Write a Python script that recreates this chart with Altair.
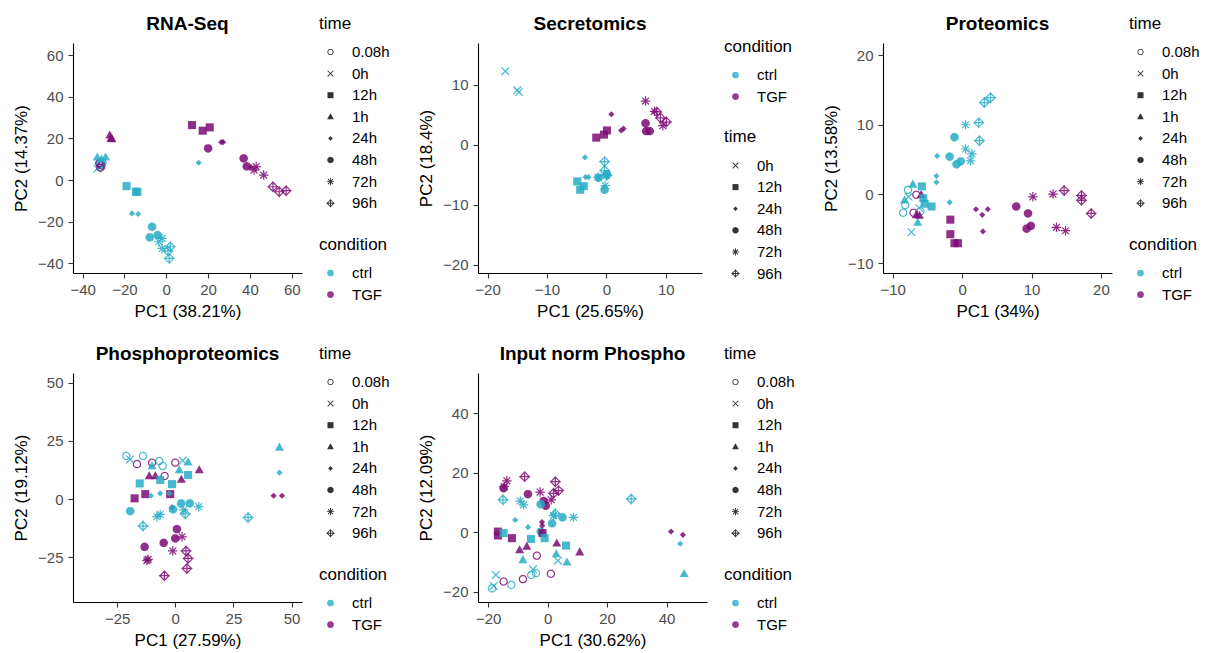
import math
import altair as alt
import pandas as pd

# ---------------- data ----------------
CONDITIONS = ["ctrl", "TGF"]
COND_COLORS = ["#27ADC4", "#7C0A73"]

RNA_TIMES = ["0.08h", "0h", "12h", "1h", "24h", "48h", "72h", "96h"]
RNA = [
    ("ctrl", "0h", -33, 5.5), ("ctrl", "0h", -31, 7), ("ctrl", "0h", -32, 6.5),
    ("ctrl", "0.08h", -32, 8), ("ctrl", "0.08h", -31.5, 7.5), ("ctrl", "0.08h", -30.5, 8.5),
    ("TGF", "0.08h", -32, 8), ("TGF", "0.08h", -31.5, 6), ("TGF", "0.08h", -31, 7),
    ("ctrl", "1h", -33, 11), ("ctrl", "1h", -29, 11), ("ctrl", "1h", -31, 10),
    ("TGF", "1h", -27, 21.5), ("TGF", "1h", -26.5, 20), ("TGF", "1h", -26, 19.8),
    ("ctrl", "12h", -19, -2.9), ("ctrl", "12h", -14.5, -5.6), ("ctrl", "12h", -13.8, -5.6),
    ("TGF", "12h", 12.3, 26.4), ("TGF", "12h", 17.4, 23.7), ("TGF", "12h", 20.8, 25.3),
    ("ctrl", "24h", -16.4, -16), ("ctrl", "24h", -13.5, -16.3), ("ctrl", "24h", 15.5, 8.3),
    ("TGF", "24h", 26.3, 18.2), ("TGF", "24h", 27.2, 18.2), ("TGF", "24h", 40.5, 6.2),
    ("ctrl", "48h", -6.8, -22.4), ("ctrl", "48h", -7.9, -27.5), ("ctrl", "48h", -4.1, -26.4),
    ("TGF", "48h", 20, 15.2), ("TGF", "48h", 37, 10.4), ("TGF", "48h", 38.5, 6.6),
    ("ctrl", "72h", -2, -28), ("ctrl", "72h", -3.6, -29.6), ("ctrl", "72h", -2, -32.8),
    ("TGF", "72h", 43, 6.5), ("TGF", "72h", 42, 4.8), ("TGF", "72h", 46.6, 2.4),
    ("ctrl", "96h", 1.9, -32), ("ctrl", "96h", 0.8, -34), ("ctrl", "96h", 1.4, -37.6),
    ("TGF", "96h", 51, -3.2), ("TGF", "96h", 54, -5.6), ("TGF", "96h", 57.3, -5.1),
]

SEC_TIMES = ["0h", "12h", "24h", "48h", "72h", "96h"]
SEC = [
    ("ctrl", "0h", -17, 12.3), ("ctrl", "0h", -14.7, 8.8), ("ctrl", "0h", -15, 9.1),
    ("ctrl", "12h", -4.9, -6.1), ("ctrl", "12h", -3.8, -6.9), ("ctrl", "12h", -4.4, -7.5),
    ("TGF", "12h", -1.7, 1.2), ("TGF", "12h", -0.4, 1.7), ("TGF", "12h", 0.1, 2.4),
    ("ctrl", "24h", -3.6, -2.1), ("ctrl", "24h", -3.5, -5.4), ("ctrl", "24h", -3.0, -5.4),
    ("TGF", "24h", 0.85, 5.1), ("TGF", "24h", 2.5, 2.4), ("TGF", "24h", 2.9, 2.7),
    ("ctrl", "48h", -1.3, -5.5), ("ctrl", "48h", -0.3, -7.5), ("ctrl", "48h", 0.1, -4.9),
    ("TGF", "48h", 6.6, 3.6), ("TGF", "48h", 6.7, 2.3), ("TGF", "48h", 7.3, 2.3),
    ("ctrl", "72h", -1.4, -5.4), ("ctrl", "72h", -0.2, -6.8), ("ctrl", "72h", 0.0, -5.1),
    ("TGF", "72h", 6.6, 7.3), ("TGF", "72h", 8.1, 5.6), ("TGF", "72h", 9.5, 3.2),
    ("ctrl", "96h", -0.3, -2.8), ("ctrl", "96h", -0.3, -4.3), ("ctrl", "96h", 0.1, -5.1),
    ("TGF", "96h", 8.5, 5.5), ("TGF", "96h", 9.1, 4.5), ("TGF", "96h", 10.1, 3.8),
]

PROT_TIMES = ["0.08h", "0h", "12h", "1h", "24h", "48h", "72h", "96h"]
PROT = [
    ("ctrl", "0.08h", -7.8, 0.6), ("ctrl", "0.08h", -8.2, -1.6), ("ctrl", "0.08h", -8.5, -2.7), ("ctrl", "0.08h", -6.0, -2.5),
    ("TGF", "0.08h", -6.6, -0.1), ("TGF", "0.08h", -7.0, -2.7),
    ("ctrl", "0h", -7.3, -5.5), ("ctrl", "0h", -7.7, -0.4), ("ctrl", "0h", -6.2, -2.0),
    ("ctrl", "1h", -7.1, 1.4), ("ctrl", "1h", -8.3, -0.9), ("ctrl", "1h", -6.4, -4.1),
    ("TGF", "1h", -5.9, -0.1), ("TGF", "1h", -6.6, -3.0), ("TGF", "1h", -6.15, -3.1),
    ("ctrl", "12h", -5.8, 1.1), ("ctrl", "12h", -5.4, -1.4), ("ctrl", "12h", -4.4, -1.8), ("ctrl", "12h", -5.6, -0.6),
    ("TGF", "12h", -1.7, -3.7), ("TGF", "12h", -1.7, -5.8), ("TGF", "12h", -1.1, -7.1), ("TGF", "12h", -0.6, -7.1),
    ("ctrl", "24h", -3.6, 5.5), ("ctrl", "24h", -3.7, 2.6), ("ctrl", "24h", -3.7, 1.7), ("ctrl", "24h", -1.8, -1.2),
    ("TGF", "24h", 2.0, -2.2), ("TGF", "24h", 2.9, -3.0), ("TGF", "24h", 3.7, -2.2), ("TGF", "24h", 3.0, -5.4),
    ("ctrl", "48h", -1.1, 8.2), ("ctrl", "48h", -1.8, 5.4), ("ctrl", "48h", -0.8, 4.3), ("ctrl", "48h", -0.2, 4.7),
    ("TGF", "48h", 7.8, -1.8), ("TGF", "48h", 9.5, -2.8), ("TGF", "48h", 9.9, -4.6), ("TGF", "48h", 9.3, -5.0),
    ("ctrl", "72h", 0.5, 10.0), ("ctrl", "72h", 0.5, 6.5), ("ctrl", "72h", 1.4, 5.8), ("ctrl", "72h", 1.2, 4.8),
    ("TGF", "72h", 10.2, -0.4), ("TGF", "72h", 13.1, 0.0), ("TGF", "72h", 13.6, -4.8), ("TGF", "72h", 14.9, -5.3),
    ("ctrl", "96h", 3.2, 13.2), ("ctrl", "96h", 4.1, 13.9), ("ctrl", "96h", 2.4, 10.3), ("ctrl", "96h", 2.5, 7.7),
    ("TGF", "96h", 14.7, 0.5), ("TGF", "96h", 17.2, -0.2), ("TGF", "96h", 17.2, -0.9), ("TGF", "96h", 18.6, -2.8),
]

PHOS_TIMES = ["0.08h", "0h", "12h", "1h", "24h", "48h", "72h", "96h"]
PHOS = [
    ("ctrl", "0.08h", -21.1, 18.5), ("ctrl", "0.08h", -13.9, 18.5), ("ctrl", "0.08h", -6.9, 16.3), ("ctrl", "0.08h", -5.4, 14.2),
    ("TGF", "0.08h", -16.5, 15.0), ("TGF", "0.08h", -10.0, 15.6), ("TGF", "0.08h", -4.6, 9.9), ("TGF", "0.08h", 0.0, 15.6),
    ("ctrl", "0h", -19.4, 17.0), ("ctrl", "0h", 3.2, 16.5),
    ("ctrl", "1h", -10.0, 14.2), ("ctrl", "1h", 1.7, 12.5), ("ctrl", "1h", 5.5, 15.8), ("ctrl", "1h", 44.8, 22.2),
    ("TGF", "1h", -11.2, 9.9), ("TGF", "1h", -8.6, 9.9), ("TGF", "1h", 2.6, 8.4), ("TGF", "1h", 10.3, 12.5),
    ("ctrl", "12h", -15.3, 6.7), ("ctrl", "12h", -6.5, 8.2), ("ctrl", "12h", -1.4, 6.4), ("ctrl", "12h", 5.5, 10.3),
    ("TGF", "12h", -17.5, 0.3), ("TGF", "12h", -12.9, 2.1), ("TGF", "12h", -2.2, 2.1),
    ("ctrl", "24h", -10.5, 1.4), ("ctrl", "24h", -6.5, 2.4), ("ctrl", "24h", -2.6, 2.4), ("ctrl", "24h", 44.8, 11.3),
    ("TGF", "24h", 42.3, 1.4), ("TGF", "24h", 45.9, 1.4), ("TGF", "24h", -1.4, -3.6),
    ("ctrl", "48h", -19.4, -5.2), ("ctrl", "48h", 2.5, -1.9), ("ctrl", "48h", 6.2, -1.9), ("ctrl", "48h", -1.0, -4.4),
    ("TGF", "48h", 0.7, -12.9), ("TGF", "48h", 0.0, -16.9), ("TGF", "48h", -5.0, -18.8), ("TGF", "48h", -13.2, -20.5),
    ("ctrl", "72h", -7.9, -7.6), ("ctrl", "72h", -6.5, -6.6), ("ctrl", "72h", 3.6, -4.7), ("ctrl", "72h", 10.1, -3.3),
    ("TGF", "72h", 2.9, -16.2), ("TGF", "72h", -1.1, -22.3), ("TGF", "72h", -11.7, -25.9), ("TGF", "72h", -12.2, -26.4),
    ("ctrl", "96h", -13.9, -11.6), ("ctrl", "96h", 4.3, -6.4), ("ctrl", "96h", 31.3, -7.9),
    ("TGF", "96h", 4.6, -22.3), ("TGF", "96h", 5.5, -25.5), ("TGF", "96h", 5.0, -29.8), ("TGF", "96h", -4.7, -32.9),
]

INP_TIMES = ["0.08h", "0h", "12h", "1h", "24h", "48h", "72h", "96h"]
INP = [
    ("TGF", "72h", -13.7, 17.3), ("TGF", "72h", -14.6, 15.4), ("TGF", "72h", -2.5, 13.5), ("TGF", "72h", 1.2, 10.9),
    ("TGF", "48h", -14.8, 14.8), ("TGF", "48h", -6.6, 12.8), ("TGF", "48h", -1.3, 10.5), ("TGF", "48h", -0.6, 8.9),
    ("TGF", "96h", -7.7, 18.7), ("TGF", "96h", 2.6, 17.0), ("TGF", "96h", 3.7, 14.0), ("TGF", "96h", 2.0, 13.1),
    ("ctrl", "96h", -15.0, 10.9), ("ctrl", "96h", 2.6, 6.2), ("ctrl", "96h", 28.1, 11.2),
    ("ctrl", "72h", -9.2, 10.5), ("ctrl", "72h", -8.1, 9.2), ("ctrl", "72h", 2.0, 5.6), ("ctrl", "72h", 8.7, 5.0),
    ("ctrl", "48h", -2.3, 9.4), ("ctrl", "48h", 5.0, 5.0), ("ctrl", "48h", 1.5, 3.0), ("ctrl", "48h", -2.3, 0.2),
    ("TGF", "24h", -1.9, 3.4), ("TGF", "24h", -1.8, 2.2), ("TGF", "24h", 41.5, 0.2), ("TGF", "24h", 45.5, -0.9),
    ("ctrl", "24h", -10.9, 4.1), ("ctrl", "24h", -6.6, 1.7), ("ctrl", "24h", 44.6, -3.9),
    ("TGF", "12h", -16.7, 0.2), ("TGF", "12h", -16.7, -1.1), ("TGF", "12h", -12.0, -2.0), ("TGF", "12h", -1.7, -0.3),
    ("ctrl", "12h", -14.8, -0.3), ("ctrl", "12h", -5.6, -2.3), ("ctrl", "12h", -1.0, -2.0), ("ctrl", "12h", 6.2, -4.5),
    ("TGF", "1h", -9.4, -6.0), ("TGF", "1h", -7.0, -4.8), ("TGF", "1h", 3.1, -3.7), ("TGF", "1h", 10.8, -6.7),
    ("ctrl", "1h", -8.3, -9.3), ("ctrl", "1h", 2.9, -7.3), ("ctrl", "1h", 6.5, -10.1), ("ctrl", "1h", 45.9, -14.0),
    ("TGF", "0.08h", -3.6, -7.9), ("TGF", "0.08h", -14.8, -16.6), ("TGF", "0.08h", -8.3, -15.8), ("TGF", "0.08h", 1.1, -14.0),
    ("ctrl", "0.08h", -18.7, -18.9), ("ctrl", "0.08h", -12.2, -17.7), ("ctrl", "0.08h", -5.5, -14.4), ("ctrl", "0.08h", -3.9, -13.8),
    ("ctrl", "0h", -17.4, -14.4), ("ctrl", "0h", -18.1, -18.1), ("ctrl", "0h", -4.9, -12.5), ("ctrl", "0h", 3.5, -9.6),
]


# ---------------- marker geometry (ggplot-like shapes as filled SVG paths) ----------------
def _orient(pts, positive=True):
    n = len(pts)
    a = sum(pts[i][0] * pts[(i + 1) % n][1] - pts[(i + 1) % n][0] * pts[i][1] for i in range(n))
    if (a > 0) != positive:
        pts = pts[::-1]
    return pts


def _poly(pts, positive=True):
    pts = _orient(list(pts), positive)
    return "M" + "L".join(f"{x:.3f},{y:.3f}" for x, y in pts) + "Z"


def _seg(x1, y1, x2, y2, t=0.13):
    dx, dy = x2 - x1, y2 - y1
    L = math.hypot(dx, dy)
    nx, ny = -dy / L * t, dx / L * t
    return _poly([(x1 + nx, y1 + ny), (x2 + nx, y2 + ny), (x2 - nx, y2 - ny), (x1 - nx, y1 - ny)])


def _circle(r, positive=True, n=28):
    return _poly([(r * math.cos(2 * math.pi * k / n), r * math.sin(2 * math.pi * k / n)) for k in range(n)], positive)


def _diamond(r, positive=True):
    return _poly([(0, -r), (r, 0), (0, r), (-r, 0)], positive)


SHAPES = {
    "0.08h": _circle(0.88) + _circle(0.63, False),
    "0h": _seg(-0.8, -0.8, 0.8, 0.8) + _seg(-0.8, 0.8, 0.8, -0.8),
    "12h": _poly([(-0.85, -0.85), (0.85, -0.85), (0.85, 0.85), (-0.85, 0.85)]),
    "1h": _poly([(0, -1.0), (0.95, 0.7), (-0.95, 0.7)]),
    "24h": _diamond(0.65),
    "48h": _circle(0.9),
    "72h": _seg(-1, 0, 1, 0) + _seg(0, -1, 0, 1) + _seg(-0.72, -0.72, 0.72, 0.72) + _seg(-0.72, 0.72, 0.72, -0.72),
    "96h": _diamond(1.15) + _diamond(0.8, False) + _seg(0, -1.15, 0, 1.15) + _seg(-1.15, 0, 1.15, 0),
}

LEG_X = 246


def panel(rows, times, title, xtitle, ytitle, xdom, ydom, xticks, yticks, w, h,
          time_y=-27.5, cond_y=193.5, title_offset=-18):
    df = pd.DataFrame(rows, columns=["condition", "time", "PC1", "PC2"])
    return alt.Chart(df).mark_point(filled=True, size=90, opacity=0.85, strokeWidth=0).encode(
        x=alt.X("PC1:Q", scale=alt.Scale(domain=xdom, nice=False, zero=False),
                axis=alt.Axis(values=xticks, title=xtitle)),
        y=alt.Y("PC2:Q", scale=alt.Scale(domain=ydom, nice=False, zero=False),
                axis=alt.Axis(values=yticks, title=ytitle)),
        color=alt.Color("condition:N",
                        scale=alt.Scale(domain=CONDITIONS, range=COND_COLORS),
                        legend=alt.Legend(title="condition", orient="none", legendX=LEG_X, legendY=cond_y,
                                          symbolType="circle", symbolSize=45, symbolOpacity=0.8,
                                          symbolStrokeWidth=0)),
        shape=alt.Shape("time:N",
                        scale=alt.Scale(domain=times, range=[SHAPES[t] for t in times]),
                        legend=alt.Legend(title="time", orient="none", legendX=LEG_X, legendY=time_y,
                                          symbolFillColor="#333333", symbolStrokeWidth=0,
                                          symbolSize=50, symbolOpacity=1)),
    ).properties(width=w, height=h, title=alt.TitleParams(title, offset=title_offset))


p1 = panel(RNA, RNA_TIMES, "RNA-Seq", "PC1 (38.21%)", "PC2 (14.37%)",
           [-44.6, 64.9], [-44.6, 65.8], [-40, -20, 0, 20, 40, 60], [-40, -20, 0, 20, 40, 60], 229, 230)
p2 = panel(SEC, SEC_TIMES, "Secretomics", "PC1 (25.65%)", "PC2 (18.4%)",
           [-21.6, 16.1], [-21.4, 17.0], [-20, -10, 0, 10], [-20, -10, 0, 10], 224, 230,
           time_y=86, cond_y=-4.5, title_offset=5)
p3 = panel(PROT, PROT_TIMES, "Proteomics", "PC1 (34%)", "PC2 (13.58%)",
           [-11.4, 21.6], [-11.4, 21.8], [-10, 0, 10, 20], [-10, 0, 10, 20], 229, 230)
p4 = panel(PHOS, PHOS_TIMES, "Phosphoproteomics", "PC1 (27.59%)", "PC2 (19.12%)",
           [-44.0, 54.5], [-44.2, 54.1], [-25, 0, 25, 50], [-25, 0, 25, 50], 229, 229)
p5 = panel(INP, INP_TIMES, "Input norm Phospho", "PC1 (30.62%)", "PC2 (12.09%)",
           [-23.4, 53.6], [-23.5, 53.6], [-20, 0, 20, 40], [-20, 0, 20, 40], 229, 229)

IND = dict(color="independent", shape="independent")

chart = (
    alt.concat(p1, p2, p3, p4, p5, columns=3, spacing={"row": 100, "column": 176}, bounds="flush")
    .resolve_scale(**IND).resolve_legend(**IND)
    .properties(padding={"left": 12, "top": 14, "right": 0, "bottom": 0})
    .configure(font="Liberation Sans")
    .configure_view(stroke="transparent")
    .configure_axis(domainColor="black", domainWidth=1.1, tickColor="#333333", tickWidth=1.1,
                    tickSize=5, labelFontSize=15, labelColor="#4D4D4D",
                    titleFontSize=17, titleFontWeight="normal", titleColor="black", grid=False)
    .configure_axisY(titlePadding=7, labelPadding=5)
    .configure_axisX(titlePadding=6.5, labelPadding=4)
    .configure_title(fontSize=19, fontWeight="bold", anchor="middle", frame="group", color="black")
    .configure_legend(titleFontSize=17, titleFontWeight="normal", titleColor="black",
                      labelFontSize=15, labelColor="black", titlePadding=12, rowPadding=5.6,
                      symbolOffset=4, labelOffset=14, padding=0)
)

chart.save("out.html", embed_options={"renderer": "svg", "actions": False})
